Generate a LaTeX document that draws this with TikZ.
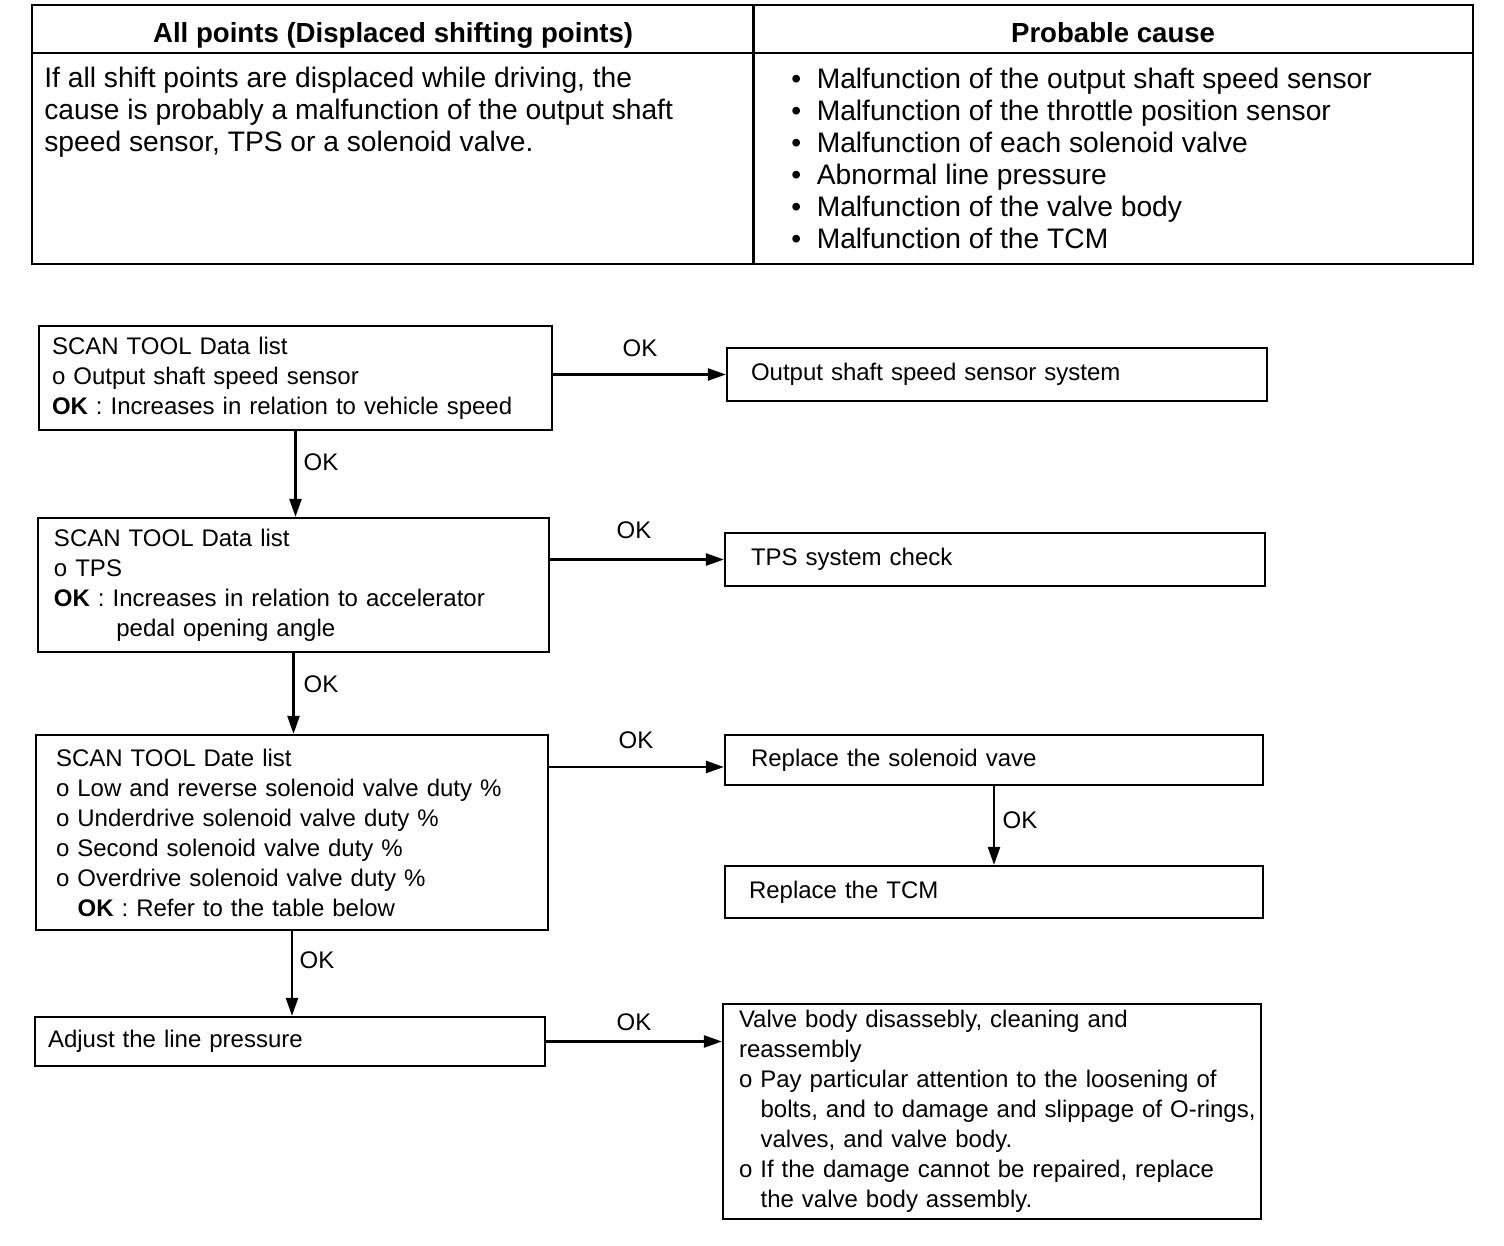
\documentclass[tikz,border=0pt]{standalone}
\usepackage{fontspec}
\setmainfont{Liberation Sans}
\usetikzlibrary{arrows.meta}
\begin{document}
\begin{tikzpicture}[x=0.5pt,y=-0.5pt,
  box/.style={draw,line width=1.1pt,align=left,anchor=center,font=\fontsize{12}{15}\selectfont},
  cell/.style={draw,line width=1.1pt,inner sep=0pt,anchor=north west},
  arr/.style={line width=1.2pt,-{Triangle[length=9pt,width=6pt]}},
  lbl/.style={font=\fontsize{12}{15}\selectfont,inner sep=0pt},
  ttext/.style={font=\fontsize{14.1}{16}\selectfont,align=left,inner sep=0pt,anchor=north west},
  thead/.style={font=\bfseries\fontsize{13.8}{16}\selectfont,inner sep=0pt,text height=10pt,text depth=0pt,anchor=center}]
\useasboundingbox (0,0) rectangle (1504,1246);
% table
\node[cell,minimum width=361pt,minimum height=24pt] (h1) at (31,4) {};
\node[cell,minimum width=360pt,minimum height=24pt] (h2) at (752,4) {};
\node[cell,minimum width=361pt,minimum height=105.5pt] (b1) at (31,52) {};
\node[cell,minimum width=360pt,minimum height=105.5pt] (b2) at (752,52) {};
\node[thead] (h1t) at ([yshift=-1.5pt]h1.center) {All points (Displaced shifting points)};
\node[thead] (h2t) at ([yshift=-1.5pt]h2.center) {Probable cause};
\node[ttext] (b1t) at (44,67) {If all shift points are displaced while driving, the\\cause is probably a malfunction of the output shaft\\speed sensor, TPS or a solenoid valve.};
\node[ttext] (b2t) at (791,68) {\textbullet\hspace{0.55em}Malfunction of the output shaft speed sensor\\\textbullet\hspace{0.55em}Malfunction of the throttle position sensor\\\textbullet\hspace{0.55em}Malfunction of each solenoid valve\\\textbullet\hspace{0.55em}Abnormal line pressure\\\textbullet\hspace{0.55em}Malfunction of the valve body\\\textbullet\hspace{0.55em}Malfunction of the TCM};
% flowchart boxes
\node[box,minimum height=52pt,text width=243.5pt,inner xsep=6.5pt] (s1) at (295.5,378) {SCAN TOOL Data list\\o Output shaft speed sensor\\\textbf{OK} : Increases in relation to vehicle speed};
\node[box,minimum height=26.5pt,text width=258pt,inner xsep=6pt] (r1) at (997,374.5) {\hspace{6pt}Output shaft speed sensor system};
\node[box,minimum height=67pt,text width=239.5pt,inner xsep=8pt] (s2) at (293.5,585) {SCAN TOOL Data list\\o TPS\\\textbf{OK} : Increases in relation to accelerator\\\hspace{2.6em}pedal opening angle};
\node[box,minimum height=26.5pt,text width=258pt,inner xsep=6pt] (r2) at (995,559.5) {\hspace{7pt}TPS system check};
\node[box,minimum height=97.5pt,text width=236pt,inner xsep=10pt] (s3) at (292,832.5) {SCAN TOOL Date list\\o Low and reverse solenoid valve duty \%\\o Underdrive solenoid valve duty \%\\o Second solenoid valve duty \%\\o Overdrive solenoid valve duty \%\\\hspace{0.9em}\textbf{OK} : Refer to the table below};
\node[box,minimum height=25pt,text width=257pt,inner xsep=6pt] (r3) at (994,760) {\hspace{7pt}Replace the solenoid vave};
\node[box,minimum height=26pt,text width=257pt,inner xsep=6pt] (r4) at (994,892) {\hspace{6pt}Replace the TCM};
\node[box,minimum height=24.5pt,text width=242pt,inner xsep=6.5pt] (s4) at (290,1041.5) {Adjust the line pressure};
\node[box,minimum height=107.5pt,text width=253pt,inner xsep=8pt] (r5) at (992,1111.5) {Valve body disassebly, cleaning and\\reassembly\\o Pay particular attention to the loosening of\\\mbox{\hspace{0.9em}bolts, and to damage and slippage of O-rings,}\\\hspace{0.9em}valves, and valve body.\\o If the damage cannot be repaired, replace\\\hspace{0.9em}the valve body assembly.};
% connectors
\coordinate (y3) at (0,767);
\draw[arr] (r1.west -| s1.east) -- (r1.west);
\draw[arr] (r2.west -| s2.east) -- (r2.west);
\draw[arr] (y3 -| s3.east) -- (y3 -| r3.west);
\draw[arr] (s4.east) -- (s4.east -| r5.west);
\draw[arr] (s1.south) -- (s1.south |- s2.north);
\draw[arr] (s2.south) -- (s2.south |- s3.north);
\draw[arr] (s3.south) -- (s3.south |- s4.north);
\draw[arr] (r3.south) -- (r4.north);
% labels
\node[lbl] (ok1) at (640,348) {OK};
\node[lbl] (ok2) at (634,530) {OK};
\node[lbl] (ok3) at (636,740) {OK};
\node[lbl] (ok4) at (634,1022) {OK};
\node[lbl] (ok5) at (321,462) {OK};
\node[lbl] (ok6) at (321,684) {OK};
\node[lbl] (ok7) at (317,960) {OK};
\node[lbl] (ok8) at (1020,820) {OK};
\end{tikzpicture}
\end{document}
